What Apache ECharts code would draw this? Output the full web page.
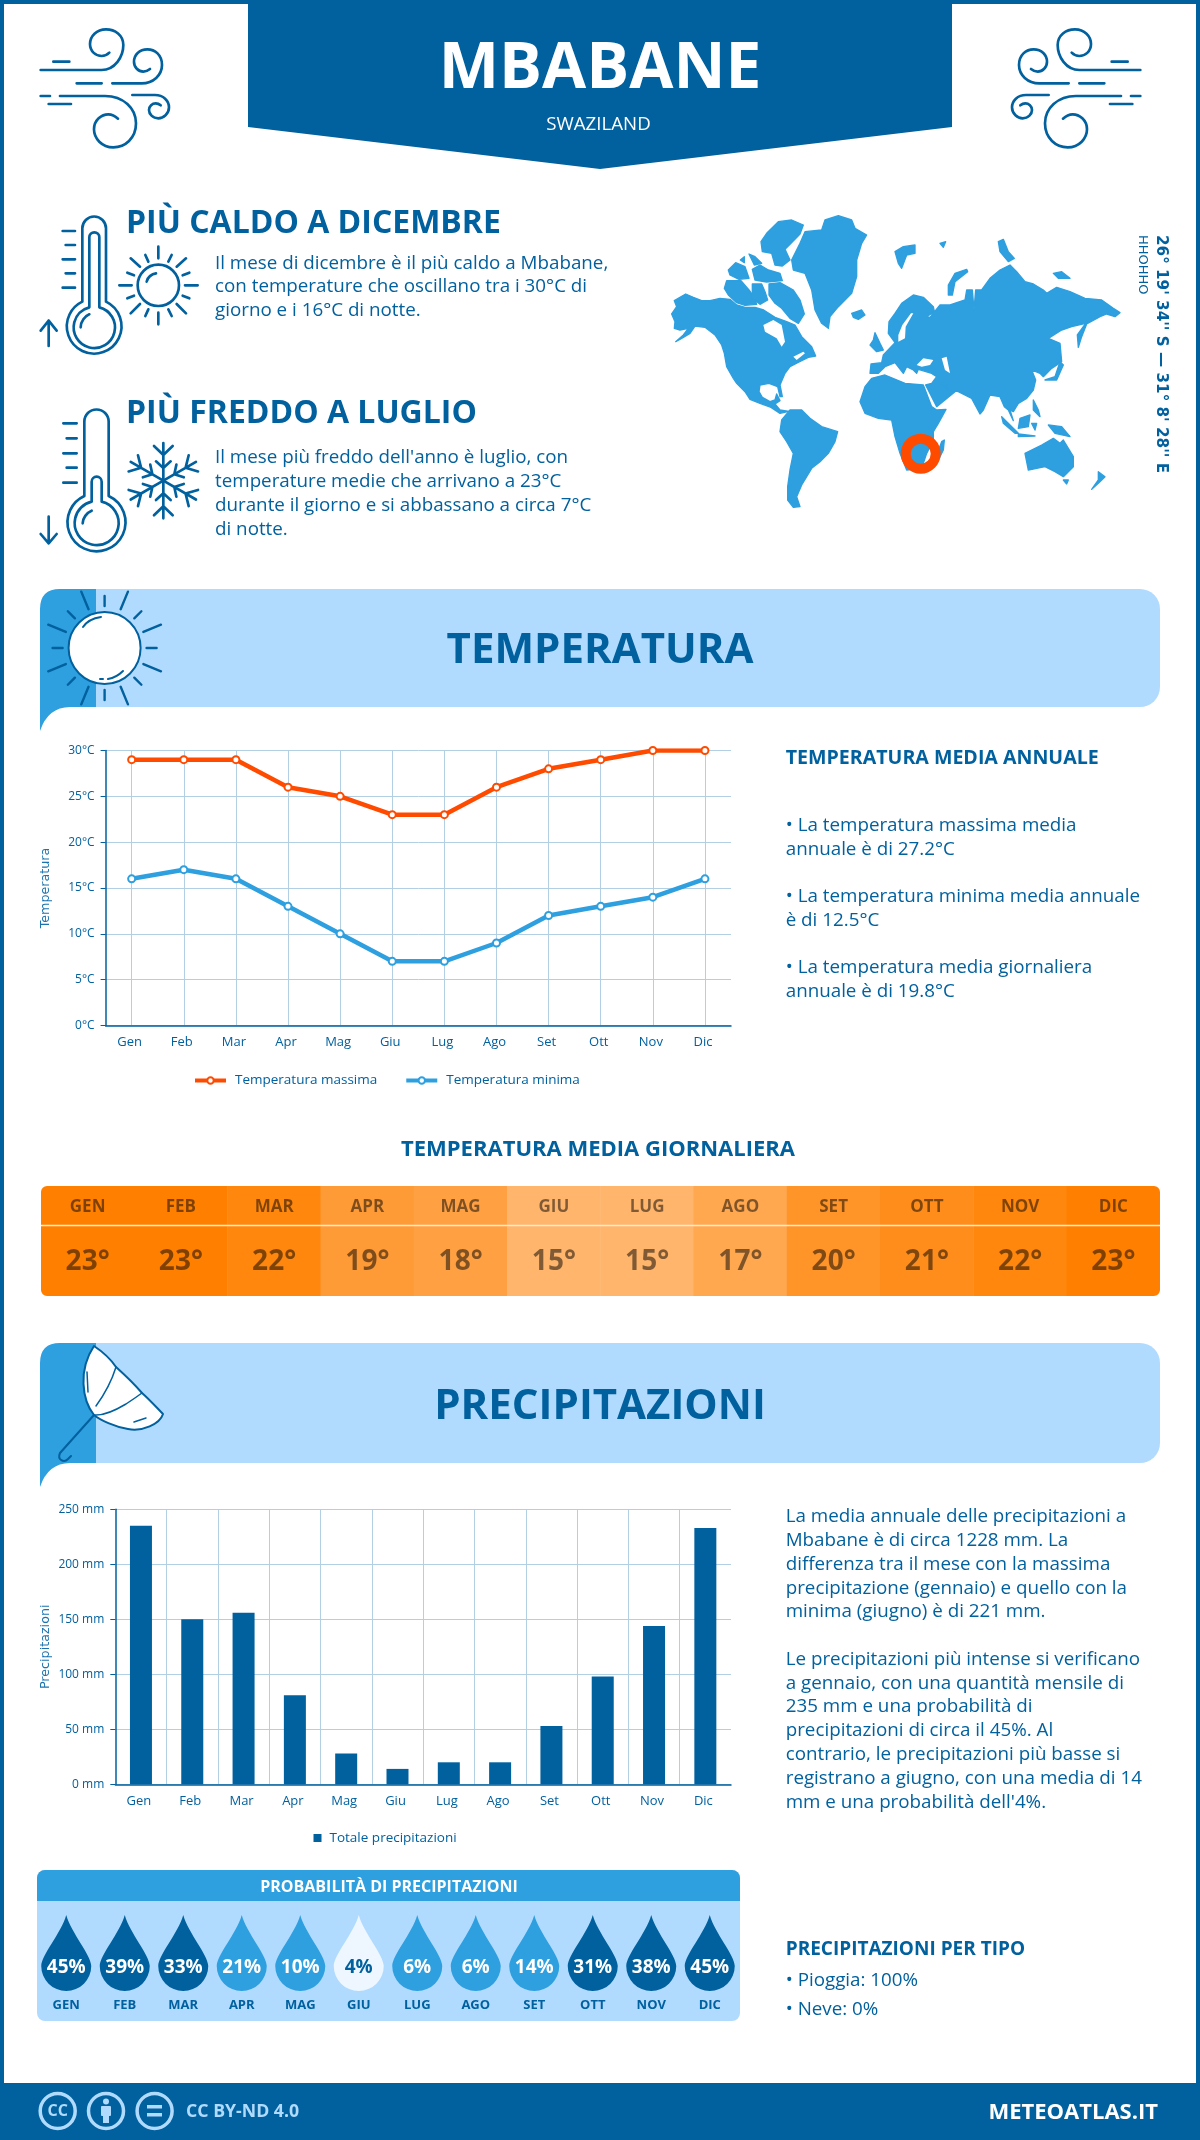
<!DOCTYPE html>
<html>
<head>
<meta charset="utf-8">
<title>Mbabane</title>
<script src="https://cdn.jsdelivr.net/npm/echarts@6/dist/echarts.min.js"></script>
<style>
html, body { margin: 0; padding: 0; background: #fff; }
#main { width: 1200px; height: 2140px; }
</style>
</head>
<body>
<div id="main"></div>
<script>
// data
var months = ['Gen','Feb','Mar','Apr','Mag','Giu','Lug','Ago','Set','Ott','Nov','Dic'];
var monthsUpper = ['GEN','FEB','MAR','APR','MAG','GIU','LUG','AGO','SET','OTT','NOV','DIC'];
var tempMax = [29,29,29,26,25,23,23,26,28,29,30,30];
var tempMin = [16,17,16,13,10,7,7,9,12,13,14,16];
var tempMean = [23,23,22,19,18,15,15,17,20,21,22,23];
var precip = [235,150,156,81,28,14,20,20,53,98,144,233];
var precipProb = [45,39,33,21,10,4,6,6,14,31,38,45];

var DARK = '#01609e', MID = '#2e9fdf', LIGHT = '#b0dbff', ORANGE = '#ff4b00', GRID = '#b3cfe3';
var OS = '"Open Sans"', DJ = '"DejaVu Sans"';
var BODY = '18.8px ' + OS;

function txt(x, y, str, font, fill, align, extra) {
    var style = {text: str, font: font, fill: fill, align: align || 'left', verticalAlign: 'middle'};
    var el = {type: 'text', x: x, y: y, style: style};
    if (extra && extra.lineHeight) { style.lineHeight = extra.lineHeight; style.verticalAlign = 'top'; }
    if (extra && extra.rotation) { el.rotation = extra.rotation; }
    return el;
}
// the graphic component has no plain path type, so each svg path gets a shape class
var pathCount = 0;
function pathType(d) {
    var name = 'svgPath' + (pathCount++);
    echarts.graphic.registerShape(name, echarts.graphic.extendPath(d, {}));
    return name;
}
function stroke(d, w, color) {
    return {type: pathType(d), style: {fill: 'none', stroke: color || DARK, lineWidth: w, lineCap: 'round', lineJoin: 'round'}};
}
function fillPath(d, color, edge) {
    var style = {fill: color};
    if (edge) { style.stroke = color; style.lineWidth = edge; style.lineJoin = 'round'; }
    return {type: pathType(d), style: style};
}

// icons, drawn in the 3x crop space
var windPaths = [
    'M62 180 L245 180 C285 180 310 140 310 105 C310 75 285 58 258 58 C230 58 210 78 210 102 C210 125 228 138 245 138 C258 138 268 128 268 128',
    'M277 220 L365 220 C400 220 426 195 426 165 C426 135 405 118 382 118 C358 118 342 135 342 155 C342 172 355 185 370 185 C380 185 390 177 390 177',
    'M100 155 L148 155 M170 220 L245 220',
    'M120 258 L255 258 C310 258 348 295 348 340 C348 385 315 412 280 412 C245 412 222 385 222 358 C222 330 245 313 265 313 C280 313 294 326 294 326',
    'M337 255 L405 255 C430 255 447 272 447 292 C447 312 430 325 415 325 C398 325 387 312 387 300 C387 288 397 280 407 280 C415 280 422 286 422 286',
    'M62 258 L90 258 M86 282 L153 282'
];
function windIcon(x, sx) {
    return {type: 'group', x: x, y: 10, scaleX: sx, scaleY: 1 / 3, children: windPaths.map(function (d) { return stroke(d, 8); })};
}

var thermoPaths = [
    // caldo
    'M157 305 L157 85 A35 35 0 0 1 228 85 L228 305 A82 82 0 1 1 157 305 Z',
    'M178 322 L178 112 A15 15 0 0 1 208 112 L208 322 A62 62 0 1 1 178 322 Z',
    'M152 382 C152 365 165 348 178 343',
    'M98 93 L135 93 M107 135 L135 135 M98 178 L135 178 M107 220 L135 220 M98 263 L135 263',
    'M56 438 L56 362 M32 392 L56 362 L80 392',
    // sole
    'M385 140 L385 175 M385 338 L385 373 M268 256 L305 256 M465 256 L503 256',
    'M302 175 L330 200 M468 175 L440 200 M302 340 L330 312 M468 340 L440 312',
    'M346 165 L355 185 M425 165 L415 185 M346 348 L355 328 M425 348 L415 328',
    'M292 218 L312 226 M478 218 L458 226 M292 295 L312 287 M478 295 L458 287',
    'M323 256 A62 62 0 1 1 447 256 A62 62 0 1 1 323 256 Z',
    'M350 245 C352 232 365 222 378 220',
    // freddo
    'M163 888 L163 665 A36 36 0 0 1 236 665 L236 888 A87 87 0 1 1 163 888 Z',
    'M185 905 L185 845 A15 15 0 0 1 215 845 L215 905 A66 66 0 1 1 185 905 Z',
    'M158 970 C158 955 170 938 185 932',
    'M100 670 L140 670 M110 715 L140 715 M100 760 L140 760 M110 803 L140 803 M100 848 L140 848',
    'M56 950 L56 1030 M32 1002 L56 1030 L80 1002'
];
var flakeArms = [];
var flakeArm = pathType('M0 0 L0 -113 M-28 -104 L0 -77 L28 -104 M-22 -58 L0 -38 L22 -58');
for (var a = 0; a < 6; a++) {
    flakeArms.push({type: flakeArm, x: 400, y: 842, rotation: a * Math.PI / 3,
        style: {fill: 'none', stroke: DARK, lineWidth: 8, lineCap: 'round', lineJoin: 'round'}});
}
var thermoIcon = {type: 'group', x: 30, y: 200, scaleX: 1 / 3, scaleY: 1 / 3,
    children: thermoPaths.map(function (d) { return stroke(d, 8); }).concat(flakeArms)};

// world map, rough outline in the 3x crop space
var land = [
    // nord america
    'M20 312 L35 290 L28 272 L62 252 L85 262 L110 272 L135 272 L165 265 L195 268 L215 285 L240 292 L270 292 L296 300 L330 322 L365 335 L390 345 L410 380 L440 410 L452 438 L430 442 L410 452 L398 458 L375 470 L360 490 L345 525 L352 560 L345 560 L338 530 L312 520 L285 525 L282 545 L292 562 L315 575 L330 570 L335 552 L345 572 L330 582 L345 600 L372 604 L345 610 L318 592 L285 580 L255 568 L240 545 L215 520 L205 505 L185 470 L178 430 L170 405 L150 375 L120 352 L90 348 L75 370 L50 385 L32 395 L55 375 L70 355 L45 360 L28 355 L30 335 Z',
    // sud america
    'M375 600 L410 600 L435 625 L470 650 L518 665 L510 695 L490 730 L465 755 L440 775 L425 800 L410 825 L395 860 L405 890 L385 892 L368 870 L368 830 L375 780 L385 730 L365 695 L345 665 L350 630 Z',
    // groenlandia
    'M380 150 L405 100 L420 65 L470 60 L480 30 L520 17 L560 30 L570 55 L605 75 L590 100 L575 150 L575 200 L560 250 L520 290 L495 320 L490 355 L470 340 L450 300 L440 240 L420 190 L385 180 Z',
    // arcipelago canadese
    'M305 70 L340 35 L380 30 L415 45 L405 72 L378 100 L360 118 L375 150 L352 168 L330 165 L320 130 L292 125 L288 95 Z',
    'M262 178 L285 165 L310 180 L345 190 L352 212 L305 216 L270 210 Z',
    'M312 222 L345 218 L385 240 L405 270 L418 312 L400 340 L375 325 L350 295 L330 280 L312 255 Z',
    'M185 212 L228 212 L252 240 L268 262 L275 283 L240 286 L215 278 L190 255 L178 235 Z',
    'M190 180 L212 158 L240 170 L252 205 L222 208 L195 195 Z',
    'M262 222 L290 222 L300 245 L308 270 L285 283 L262 265 Z',
    'M252 132 L270 140 L290 160 L268 165 Z',
    'M226 150 L238 140 L238 158 Z',
    // isole atlantiche e artiche
    'M560 310 L590 300 L600 315 L580 328 L565 322 Z',
    'M690 125 L715 110 L750 105 L750 130 L725 135 L710 175 L700 160 Z',
    'M825 100 L842 95 L835 112 Z',
    'M1000 95 L1015 88 L1030 125 L1048 145 L1030 155 L1005 125 Z',
    'M1165 190 L1190 185 L1215 205 L1180 205 Z',
    'M905 178 L870 190 L850 225 L850 255 L862 255 L870 215 L908 185 Z',
    'M630 368 L645 400 L655 420 L635 425 L615 405 L625 390 Z',
    // eurasia
    'M615 490 L640 490 L660 470 L690 458 L715 490 L725 470 L745 480 L755 490 L760 478 L800 490 L815 500 L800 520 L782 525 L815 590 L870 545 L845 525 L830 520 L850 540 L880 545 L920 565 L945 612 L955 600 L975 555 L1005 560 L1018 590 L1030 600 L1045 632 L1035 600 L1045 605 L1060 580 L1085 565 L1105 540 L1112 510 L1100 480 L1125 490 L1135 500 L1160 475 L1190 455 L1185 400 L1150 385 L1190 360 L1220 350 L1262 340 L1237 375 L1240 412 L1250 380 L1265 342 L1305 320 L1325 312 L1350 320 L1365 308 L1345 295 L1310 270 L1260 265 L1215 245 L1175 232 L1145 250 L1135 240 L1105 222 L1080 215 L1055 185 L1035 165 L1005 180 L975 205 L950 240 L932 240 L927 300 L922 240 L905 240 L900 270 L855 285 L825 285 L795 322 L785 320 L808 305 L805 290 L775 262 L745 255 L710 280 L690 310 L672 335 L670 370 L690 398 L655 435 L650 458 L618 462 Z',
    // africa
    'M620 505 L660 495 L720 520 L775 525 L800 590 L815 600 L843 598 L820 640 L805 665 L805 690 L785 730 L770 775 L725 780 L705 730 L690 680 L680 630 L640 625 L600 610 L585 575 L600 530 Z',
    // asia orientale e oceania
    'M1140 510 L1170 500 L1185 455 L1195 465 L1175 510 Z',
    'M1010 620 L1060 670 L1050 670 L1015 640 Z',
    'M1065 625 L1095 615 L1090 650 L1060 655 Z',
    'M1060 672 L1110 678 L1060 680 Z',
    'M1100 640 L1115 640 L1110 660 Z',
    'M1150 645 L1190 650 L1215 680 L1170 670 Z',
    'M1105 570 L1120 600 L1125 620 L1105 600 Z',
    'M1080 730 L1130 705 L1165 685 L1185 700 L1195 690 L1225 740 L1225 770 L1195 800 L1170 785 L1140 770 L1090 780 Z',
    'M1195 810 L1210 810 L1205 822 Z',
    'M1300 785 L1320 800 L1300 820 L1280 838 L1300 810 Z',
    'M830 695 L838 690 L835 720 L820 750 L815 735 Z'
];
var seas = [
    'M295 345 L325 330 L350 345 L360 395 L350 410 L335 385 L300 365 Z',
    'M385 440 L415 425 L420 430 L395 450 Z',
    'M755 465 L775 445 L805 450 L795 465 L770 470 Z',
    'M830 445 L845 440 L855 490 L840 480 Z',
    'M700 395 L720 385 L722 350 L745 310 L738 310 L712 345 L700 375 Z'
];
var worldMap = {type: 'group', x: 665, y: 210, scaleX: 1 / 3, scaleY: 1 / 3,
    children: land.map(function (d) { return fillPath(d, MID, 4); }).concat(seas.map(function (d) { return fillPath(d, '#fff'); }))};

// section banners
function banner(top, bottom) {
    return [
        {type: 'rect', shape: {x: 96, y: top, width: 1064, height: bottom - top, r: [0, 20, 20, 0]}, style: {fill: LIGHT}},
        fillPath('M60 ' + top + ' Q40 ' + top + ' 40 ' + (top + 20) + ' L40 ' + (bottom + 24) + ' Q48 ' + bottom + ' 70 ' + bottom + ' L96 ' + bottom + ' L96 ' + top + ' Z', MID)
    ];
}
var sunRays = [];
for (var k = 0; k < 16; k++) {
    var ang = (90 + 22.5 * k) * Math.PI / 180;
    var outer = k % 2 ? 61 : 52;
    sunRays.push({type: 'line', shape: {x1: 104.6 + 42 * Math.cos(ang), y1: 648 - 42 * Math.sin(ang), x2: 104.6 + outer * Math.cos(ang), y2: 648 - outer * Math.sin(ang)},
        style: {stroke: DARK, lineWidth: 2.4, lineCap: 'round'}});
}

// main graphic list
var elements = [
    // cornice
    {type: 'rect', shape: {x: 0, y: 0, width: 1200, height: 2140}, style: {fill: 'none', stroke: DARK, lineWidth: 8}},
    {type: 'rect', shape: {x: 0, y: 2083, width: 1200, height: 57}, style: {fill: DARK}},
    fillPath('M248 0 L952 0 L952 127 L600 169 L248 127 Z', DARK),
    txt(600, 70, 'MBABANE', 'bold 64px ' + OS, '#fff', 'center'),
    txt(598.5, 125, 'SWAZILAND', '18.7px ' + OS, '#fff', 'center'),
    windIcon(20, 1 / 3),
    windIcon(1161, -1 / 3),
    thermoIcon,
    txt(126, 223.5, 'PIÙ CALDO A DICEMBRE', 'bold 32px ' + OS, DARK),
    txt(215, 252, 'Il mese di dicembre è il più caldo a Mbabane,\ncon temperature che oscillano tra i 30°C di\ngiorno e i 16°C di notte.', BODY, DARK, 'left', {lineHeight: 23.4}),
    txt(126, 413.5, 'PIÙ FREDDO A LUGLIO', 'bold 32px ' + OS, DARK),
    txt(215, 446, 'Il mese più freddo dell\'anno è luglio, con\ntemperature medie che arrivano a 23°C\ndurante il giorno e si abbassano a circa 7°C\ndi notte.', BODY, DARK, 'left', {lineHeight: 23.8}),
    worldMap,
    {type: 'ring', shape: {cx: 920.7, cy: 453.7, r: 20, r0: 10}, style: {fill: ORANGE}},
    txt(1161, 235, '26° 19\' 34\'\' S — 31° 8\' 28\'\' E', 'bold 15.2px ' + DJ, DARK, 'left', {rotation: -Math.PI / 2}),
    txt(1142, 235, 'HHOHHO', '13px ' + DJ, DARK, 'left', {rotation: -Math.PI / 2}),

    // temperatura
    ...banner(589, 707),
    ...sunRays,
    {type: 'circle', shape: {cx: 104.6, cy: 648, r: 36}, style: {fill: '#fff', stroke: DARK, lineWidth: 2}},
    stroke('M83 627 C87 621 94 618 101 617 M100 679 L103 679 M108 679 C114 678 119 675 123 671', 2),
    txt(600, 651, 'TEMPERATURA', 'bold 42px ' + OS, DARK, 'center'),
    txt(785.7, 758, 'TEMPERATURA MEDIA ANNUALE', 'bold 19.6px ' + OS, DARK),
    txt(785.7, 813.5, '• La temperatura massima media\nannuale è di 27.2°C', BODY, DARK, 'left', {lineHeight: 24}),
    txt(785.7, 884.5, '• La temperatura minima media annuale\nè di 12.5°C', BODY, DARK, 'left', {lineHeight: 24}),
    txt(785.7, 956, '• La temperatura media giornaliera\nannuale è di 19.8°C', BODY, DARK, 'left', {lineHeight: 24}),
    txt(598, 1150, 'TEMPERATURA MEDIA GIORNALIERA', 'bold 22px ' + OS, DARK, 'center'),
    // bordo arrotondato e separatore della striscia
    {type: 'rect', z: 100, shape: {x: 39, y: 1184, width: 1123, height: 114, r: 8}, style: {fill: 'none', stroke: '#fff', lineWidth: 4}},
    {type: 'line', z: 100, shape: {x1: 41, y1: 1225.5, x2: 1160, y2: 1225.5}, style: {stroke: '#ffe9d2', lineWidth: 1.5}},

    // precipitazioni
    ...banner(1343, 1463),
    stroke('M94 1415 L60 1453 C57 1460 64 1463 68 1459 L71 1456', 2),
    {type: pathType('M94 1346 C100 1350 110 1358 116 1367 C126 1376 136 1386 142 1393 C150 1400 157 1408 163 1414 C160 1424 142 1432 128 1429 C115 1427 100 1420 94 1415 C82 1400 78 1370 94 1346 Z'),
        style: {fill: '#fff', stroke: DARK, lineWidth: 2, lineJoin: 'round'}},
    stroke('M94 1415 C104 1416 116 1410 126 1404 C132 1400 138 1396 142 1393 M116 1367 C112 1380 104 1395 96 1406 M87 1372 L88 1392 M134 1422 L146 1418', 1.5),
    txt(600, 1407, 'PRECIPITAZIONI', 'bold 42px ' + OS, DARK, 'center'),
    txt(785.7, 1505, 'La media annuale delle precipitazioni a\nMbabane è di circa 1228 mm. La\ndifferenza tra il mese con la massima\nprecipitazione (gennaio) e quello con la\nminima (giugno) è di 221 mm.', BODY, DARK, 'left', {lineHeight: 23.8}),
    txt(785.7, 1647.5, 'Le precipitazioni più intense si verificano\na gennaio, con una quantità mensile di\n235 mm e una probabilità di\nprecipitazioni di circa il 45%. Al\ncontrario, le precipitazioni più basse si\nregistrano a giugno, con una media di 14\nmm e una probabilità dell\'4%.', BODY, DARK, 'left', {lineHeight: 23.8}),

    // probabilita
    {type: 'rect', shape: {x: 37, y: 1870, width: 703, height: 151, r: 8}, style: {fill: LIGHT}},
    {type: 'rect', shape: {x: 37, y: 1870, width: 703, height: 31, r: [8, 8, 0, 0]}, style: {fill: MID}},
    txt(389, 1887.5, 'PROBABILITÀ DI PRECIPITAZIONI', 'bold 16px ' + OS, '#fff', 'center'),
    txt(785.7, 1949.5, 'PRECIPITAZIONI PER TIPO', 'bold 19px ' + OS, DARK),
    txt(785.7, 1981, '• Pioggia: 100%', BODY, DARK),
    txt(785.7, 2010, '• Neve: 0%', BODY, DARK),

    // footer
    {type: 'circle', shape: {cx: 57.7, cy: 2111, r: 17.5}, style: {fill: 'none', stroke: LIGHT, lineWidth: 3.5}},
    txt(57.7, 2111, 'CC', 'bold 16px ' + OS, LIGHT, 'center'),
    {type: 'circle', shape: {cx: 106, cy: 2111, r: 17.5}, style: {fill: 'none', stroke: LIGHT, lineWidth: 3.5}},
    {type: 'circle', shape: {cx: 106, cy: 2101.5, r: 3}, style: {fill: LIGHT}},
    {type: 'rect', shape: {x: 101, y: 2106, width: 10, height: 10, r: 1}, style: {fill: LIGHT}},
    {type: 'rect', shape: {x: 103, y: 2115, width: 6, height: 8}, style: {fill: LIGHT}},
    {type: 'circle', shape: {cx: 154.6, cy: 2111, r: 17.5}, style: {fill: 'none', stroke: LIGHT, lineWidth: 3.5}},
    {type: 'rect', shape: {x: 147, y: 2105, width: 15, height: 3.5}, style: {fill: LIGHT}},
    {type: 'rect', shape: {x: 147, y: 2113, width: 15, height: 3.5}, style: {fill: LIGHT}},
    txt(186, 2112, 'CC BY-ND 4.0', 'bold 17.7px ' + OS, LIGHT),
    txt(1158, 2112.5, 'METEOATLAS.IT', 'bold 22px ' + OS, '#fff', 'right')
];

var dropSymbol = 'path://M25 0 C30 18 50 40 50 51 A25 25 0 0 1 0 51 C0 40 20 18 25 0 Z';
function dropColor(v) {
    if (v < 5) return '#eef7ff';
    return v < 30 ? MID : DARK;
}

var axisText = {color: DARK, fontFamily: 'Open Sans', fontSize: 13, interval: 0, margin: 10, padding: [0, 4, 0, 0]};

var chart = echarts.init(document.getElementById('main'));
var option = {
    animation: false,
    textStyle: {fontFamily: 'Open Sans'},
    graphic: {elements: elements},
    grid: [
        {left: 105.6, top: 750.5, width: 625.4, height: 275},
        {left: 41, top: 1186, width: 1119, height: 110},
        {left: 115.3, top: 1509.3, width: 615.7, height: 275},
        {left: 37, top: 1915, width: 702, height: 76}
    ],
    xAxis: [
        {gridIndex: 0, type: 'category', data: months, axisTick: {show: false},
            axisLine: {lineStyle: {color: DARK, width: 1.5}},
            axisLabel: axisText,
            splitLine: {show: true, alignWithLabel: true, lineStyle: {color: GRID}}},
        {gridIndex: 1, type: 'category', data: monthsUpper, position: 'top', z: 10,
            axisTick: {show: false}, axisLine: {show: false},
            axisLabel: {inside: true, interval: 0, margin: 13, color: 'rgba(0,0,0,0.5)', fontFamily: 'Open Sans', fontWeight: 'bold', fontSize: 17}},
        {gridIndex: 2, type: 'category', data: months, axisTick: {show: false},
            axisLine: {lineStyle: {color: DARK, width: 1.5}},
            axisLabel: axisText,
            splitLine: {show: true, showMinLine: false, showMaxLine: false, lineStyle: {color: GRID}}},
        {gridIndex: 3, type: 'category', data: monthsUpper, axisTick: {show: false}, axisLine: {show: false},
            axisLabel: {interval: 0, margin: 8, color: DARK, fontFamily: 'Open Sans', fontWeight: 'bold', fontSize: 13}}
    ],
    yAxis: [
        {gridIndex: 0, type: 'value', min: 0, max: 30, interval: 5, name: 'Temperatura', nameLocation: 'middle', nameGap: 53, nameMoveOverlap: false,
            nameTextStyle: {color: '#1a73ae', fontFamily: 'DejaVu Sans', fontSize: 12.7},
            axisLine: {show: true, lineStyle: {color: DARK, width: 1.5}},
            axisTick: {show: true, length: 5, lineStyle: {color: DARK}},
            axisLabel: {formatter: '{value}°C', color: DARK, fontFamily: 'Open Sans', fontSize: 12, margin: 11},
            splitLine: {lineStyle: {color: GRID}}},
        {gridIndex: 1, type: 'category', data: ['Media'], show: false},
        {gridIndex: 2, type: 'value', min: 0, max: 250, interval: 50, name: 'Precipitazioni', nameLocation: 'middle', nameGap: 63, nameMoveOverlap: false,
            nameTextStyle: {color: '#1a73ae', fontFamily: 'DejaVu Sans', fontSize: 12.7},
            axisLine: {show: true, lineStyle: {color: DARK, width: 1.5}},
            axisTick: {show: true, length: 5, lineStyle: {color: DARK}},
            axisLabel: {formatter: '{value} mm', color: DARK, fontFamily: 'Open Sans', fontSize: 12, margin: 11},
            splitLine: {lineStyle: {color: GRID}}},
        {gridIndex: 3, type: 'category', data: ['Probabilità'], show: false}
    ],
    legend: [
        {data: ['Temperatura massima', 'Temperatura minima'], left: 193, top: 1073.5, padding: 0, itemWidth: 31, itemHeight: 8, itemGap: 27,
            lineStyle: {width: 4},
            textStyle: {color: DARK, fontFamily: 'Open Sans', fontSize: 13.5, padding: [0, 0, 0, 4]}},
        {data: ['Totale precipitazioni'], left: 313.5, top: 1831, padding: 0, itemWidth: 8, itemHeight: 8, icon: 'rect',
            textStyle: {color: DARK, fontFamily: 'Open Sans', fontSize: 13.5, padding: [0, 0, 0, 3]}}
    ],
    visualMap: {show: false, seriesIndex: 2, dimension: 2, min: 15, max: 23, inRange: {color: ['#ffb56b', '#ff8000']}},
    series: [
        {name: 'Temperatura massima', type: 'line', xAxisIndex: 0, yAxisIndex: 0, data: tempMax,
            symbol: 'emptyCircle', symbolSize: 7, lineStyle: {color: ORANGE, width: 4.5}, itemStyle: {color: ORANGE, borderWidth: 1}},
        {name: 'Temperatura minima', type: 'line', xAxisIndex: 0, yAxisIndex: 0, data: tempMin,
            symbol: 'emptyCircle', symbolSize: 7, lineStyle: {color: MID, width: 4.5}, itemStyle: {color: MID, borderWidth: 1}},
        {name: 'Temperatura media', type: 'heatmap', xAxisIndex: 1, yAxisIndex: 1,
            data: tempMean.map(function (v, i) { return [i, 0, v]; }),
            label: {show: true, offset: [0, 21], color: 'rgba(0,0,0,0.5)', fontFamily: 'Open Sans', fontWeight: 'bold', fontSize: 28,
                formatter: function (p) { return p.value[2] + '°'; }}},
        {name: 'Totale precipitazioni', type: 'bar', xAxisIndex: 2, yAxisIndex: 2, data: precip, barWidth: 22, itemStyle: {color: DARK}},
        {name: 'Probabilità di precipitazioni', type: 'scatter', xAxisIndex: 3, yAxisIndex: 3, symbol: dropSymbol, symbolSize: [50, 76],
            data: precipProb.map(function (v, i) {
                return {value: [i, 0, v], itemStyle: {color: dropColor(v), opacity: 1}, label: {color: v < 5 ? DARK : '#fff'}};
            }),
            label: {show: true, position: 'inside', offset: [0, 15], fontFamily: 'Open Sans', fontWeight: 'bold', fontSize: 19,
                formatter: function (p) { return p.value[2] + '%'; }}}
    ]
};
chart.setOption(option);
</script>
</body>
</html>
